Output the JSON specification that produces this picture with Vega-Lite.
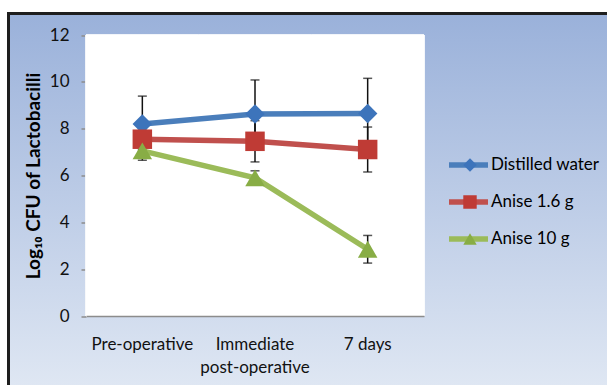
{
  "$schema": "https://vega.github.io/schema/vega-lite/v6.json",
  "width": 608.5,
  "height": 381.5,
  "autosize": {"type": "none"},
  "padding": {"left": 8.5, "top": 13.5, "right": -10, "bottom": -10},
  "background": "white",
  "view": {
    "fill": {"gradient": "linear", "x1": 0, "y1": 0, "x2": 0, "y2": 1,
      "stops": [{"offset": 0, "color": "#9ab1da"}, {"offset": 0.98, "color": "#dfe7f3"}, {"offset": 1, "color": "#e0e8f4"}]},
    "stroke": "#1e1e1e",
    "strokeWidth": 3
  },
  "config": {"font": "Lato", "legend": {"padding": 0}},
  "data": {"values": [
    {"time": "Pre-operative", "series": "Distilled water", "mean": 8.2, "sd": 1.19},
    {"time": "Immediate post-operative", "series": "Distilled water", "mean": 8.63, "sd": 1.45},
    {"time": "7 days", "series": "Distilled water", "mean": 8.65, "sd": 1.5},
    {"time": "Pre-operative", "series": "Anise 1.6 g", "mean": 7.55, "sd": 0.45},
    {"time": "Immediate post-operative", "series": "Anise 1.6 g", "mean": 7.46, "sd": 0.88},
    {"time": "7 days", "series": "Anise 1.6 g", "mean": 7.11, "sd": 0.96},
    {"time": "Pre-operative", "series": "Anise 10 g", "mean": 7.05, "sd": 0.4},
    {"time": "Immediate post-operative", "series": "Anise 10 g", "mean": 5.9, "sd": 0.3},
    {"time": "7 days", "series": "Anise 10 g", "mean": 2.85, "sd": 0.59}
  ]},
  "encoding": {
    "x": {
      "field": "time", "type": "nominal",
      "sort": ["Pre-operative", "Immediate post-operative", "7 days"],
      "scale": {"type": "band", "range": [77.5, 415.5], "paddingInner": 0, "paddingOuter": 0},
      "axis": {
        "orient": "bottom", "offset": -79, "title": null, "ticks": false,
        "domainColor": "#8c8c8c", "domainWidth": 1.5,
        "labelFontSize": 17, "labelColor": "#111", "labelPadding": 20, "labelAngle": 0,
        "labelExpr": "datum.value == 'Immediate post-operative' ? ['Immediate', 'post-operative'] : datum.value",
        "labelLineHeight": 23
      }
    }
  },
  "layer": [
    {
      "mark": {"type": "rect", "fill": "white", "stroke": "white", "strokeWidth": 1},
      "encoding": {
        "y": {"datum": 0, "type": "quantitative"},
        "y2": {"datum": 12}
      }
    },
    {
      "mark": {"type": "errorbar", "ticks": {"size": 9, "thickness": 1.5, "color": "#111"}, "rule": {"strokeWidth": 1.5, "color": "#111"}},
      "encoding": {
        "y": {"field": "mean", "type": "quantitative", "title": "Log₁₀ CFU of Lactobacilli"},
        "yError": {"field": "sd"}
      }
    },
    {
      "mark": {"type": "line", "strokeWidth": 5.5},
      "encoding": {
        "y": {
          "field": "mean", "type": "quantitative", "title": "Log₁₀ CFU of Lactobacilli",
          "scale": {"domain": [0, 12], "nice": false, "range": [302.5, 21.5]},
          "axis": {
            "orient": "left", "offset": -77.5, "values": [0, 2, 4, 6, 8, 10, 12],
            "tickSize": 5, "tickColor": "#8c8c8c", "tickWidth": 1.5,
            "domainColor": "#8c8c8c", "domainWidth": 1.5, "grid": false,
            "labelFontSize": 17, "labelColor": "#111", "labelPadding": 12,
            "title": "Log₁₀ CFU of Lactobacilli", "titleFontSize": 19,
            "titleFontWeight": "bold", "titleColor": "#000", "titlePadding": 6
          }
        },
        "stroke": {
          "field": "series", "type": "nominal",
          "sort": ["Distilled water", "Anise 1.6 g", "Anise 10 g"],
          "scale": {"range": ["#4a7ebb", "#c0504d", "#9bbb59"]},
          "legend": {
            "orient": "none", "legendX": 437.5, "legendY": 141.5, "title": null,
            "symbolType": "stroke", "symbolSize": 1521, "symbolStrokeWidth": 5.5,
            "labelFontSize": 17, "labelColor": "#000", "labelOffset": 0,
            "clipHeight": 20, "rowPadding": 17
          }
        },
        "detail": {"field": "series"}
      }
    },
    {
      "mark": {"type": "point", "filled": true, "opacity": 1, "size": 380},
      "encoding": {
        "y": {"field": "mean", "type": "quantitative", "title": "Log₁₀ CFU of Lactobacilli"},
        "fill": {
          "field": "series", "type": "nominal",
          "scale": {"domain": ["Distilled water", "Anise 1.6 g", "Anise 10 g"], "range": ["#3d74bb", "#bf3b35", "#88ad45"]},
          "legend": {
            "orient": "none", "legendX": 453, "legendY": 141.5, "title": null,
            "symbolSize": 180, "symbolStrokeWidth": 0, "labelExpr": "''",
            "labelFontSize": 17, "labelOffset": 0, "clipHeight": 20, "rowPadding": 17
          }
        },
        "shape": {
          "field": "series", "type": "nominal",
          "scale": {"domain": ["Distilled water", "Anise 1.6 g", "Anise 10 g"], "range": ["diamond", "square", "triangle-up"]},
          "legend": {
            "orient": "none", "legendX": 453, "legendY": 141.5, "title": null,
            "symbolSize": 180, "symbolStrokeWidth": 0, "labelExpr": "''",
            "labelFontSize": 17, "labelOffset": 0, "clipHeight": 20, "rowPadding": 17
          }
        }
      }
    }
  ]
}
